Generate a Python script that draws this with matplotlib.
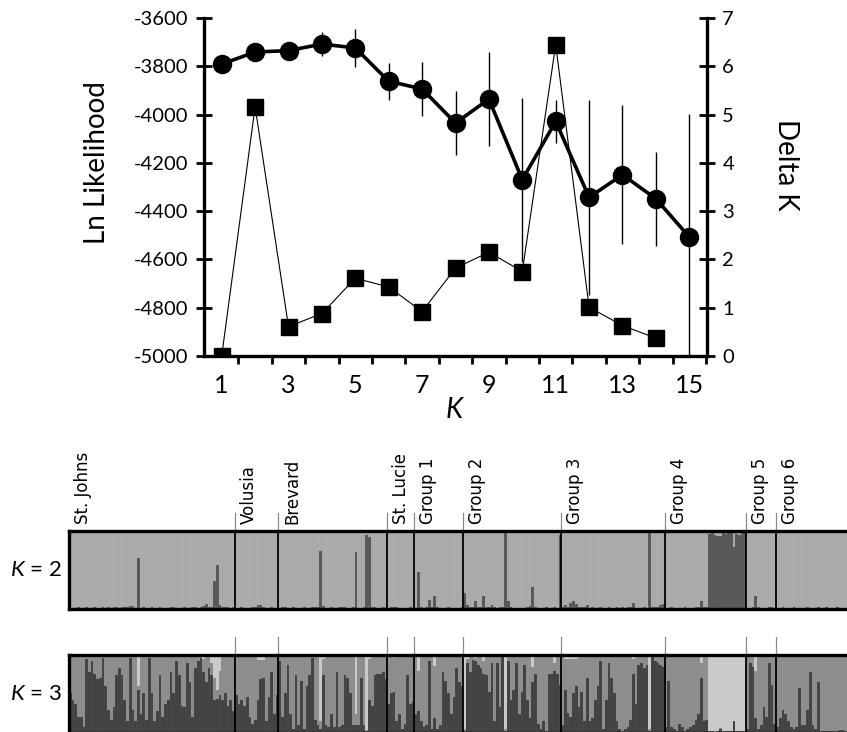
import matplotlib.pyplot as plt
import matplotlib.transforms as mtransforms
import numpy as np

# 字体设置
plt.rcParams['font.family'] = ['Lato', 'DejaVu Sans']
plt.rcParams['axes.unicode_minus'] = False
plt.rcParams['mathtext.fontset'] = 'custom'
plt.rcParams['mathtext.it'] = 'Lato:italic'
plt.rcParams['mathtext.rm'] = 'Lato'

# 上图数据：每个K的平均Ln似然值、标准差和Delta K
k_values = [1, 2, 3, 4, 5, 6, 7, 8, 9, 10, 11, 12, 13, 14, 15]
ln_likelihood = [-3791, -3741, -3735, -3708, -3724, -3862, -3894, -4035,
                 -3936, -4270, -4028, -4343, -4249, -4349, -4507]
ln_sd = [10, 12, 15, 50, 79, 76, 112, 131, 195, 340, 90, 405, 287, 196, 510]
delta_k_x = [1, 2, 3, 4, 5, 6, 7, 8, 9, 10, 11, 12, 13, 14]
delta_k = [0.0, 5.16, 0.61, 0.88, 1.61, 1.43, 0.92, 1.82, 2.15, 1.75,
           6.45, 1.01, 0.63, 0.37]

# 下图数据：种群名称
pop_names = ['St. Johns', 'Volusia', 'Brevard', 'St. Lucie', 'Group 1',
             'Group 2', 'Group 3', 'Group 4', 'Group 5', 'Group 6']

# K=2 深色聚类的比例
k2_st_johns = [0.01, 0.01, 0.01, 0.02, 0.01, 0.01, 0.02, 0.01, 0.01, 0.02,
               0.01, 0.01, 0.02, 0.01, 0.02, 0.01, 0.02, 0.02, 0.01, 0.02,
               0.02, 0.03, 0.04, 0.04, 0.01, 0.65, 0.01, 0.02, 0.01, 0.01,
               0.02, 0.01, 0.01, 0.02, 0.01, 0.01, 0.01, 0.02, 0.02, 0.01,
               0.01, 0.01, 0.02, 0.01, 0.01, 0.02, 0.03, 0.01, 0.02, 0.04,
               0.06, 0.02, 0.03, 0.36, 0.57, 0.05, 0.03, 0.02, 0.02, 0.01,
               0.02]
k2_volusia = [0.01, 0.01, 0.02, 0.01, 0.01, 0.01, 0.02, 0.02, 0.05, 0.05,
              0.02, 0.01, 0.01, 0.02, 0.01, 0.01]
k2_brevard = [0.01, 0.02, 0.03, 0.01, 0.01, 0.02, 0.01, 0.01, 0.01, 0.02,
              0.01, 0.01, 0.02, 0.02, 0.03, 0.74, 0.04, 0.01, 0.01, 0.02,
              0.01, 0.01, 0.03, 0.03, 0.03, 0.01, 0.01, 0.02, 0.73, 0.01,
              0.01, 0.02, 0.95, 0.92, 0.02, 0.02, 0.01, 0.01, 0.02, 0.01]
k2_st_lucie = [0.01, 0.02, 0.03, 0.03, 0.01, 0.01, 0.01, 0.01, 0.02, 0.01]
k2_group1 = [0.01, 0.48, 0.02, 0.01, 0.02, 0.11, 0.02, 0.17, 0.02, 0.01,
             0.01, 0.01, 0.02, 0.01, 0.01, 0.01, 0.01, 0.02]
k2_group2 = [0.21, 0.05, 0.02, 0.03, 0.10, 0.02, 0.02, 0.17, 0.02, 0.03,
             0.05, 0.02, 0.01, 0.02, 0.02, 0.97, 0.10, 0.02, 0.01, 0.01,
             0.01, 0.01, 0.01, 0.02, 0.04, 0.28, 0.02, 0.01, 0.01, 0.01,
             0.02, 0.01, 0.01, 0.02, 0.01, 0.95]
k2_group3 = [0.02, 0.05, 0.03, 0.08, 0.10, 0.06, 0.03, 0.02, 0.03, 0.05,
             0.01, 0.02, 0.01, 0.01, 0.02, 0.01, 0.01, 0.02, 0.01, 0.01,
             0.03, 0.01, 0.02, 0.01, 0.02, 0.02, 0.08, 0.01, 0.01, 0.01,
             0.02, 0.01, 0.97, 0.02, 0.02, 0.03, 0.05, 0.06]
k2_group4 = [0.01, 0.01, 0.02, 0.01, 0.01, 0.01, 0.01, 0.02, 0.01, 0.01,
             0.01, 0.02, 0.02, 0.10, 0.02, 0.03, 0.96, 0.97, 0.95, 0.93,
             0.93, 0.97, 0.96, 0.97, 0.97, 0.80, 0.96, 0.95, 0.97, 0.98]
k2_group5 = [0.01, 0.01, 0.02, 0.17, 0.02, 0.01, 0.01, 0.01, 0.03, 0.02, 0.01]
k2_group6 = [0.01, 0.01, 0.02, 0.01, 0.01, 0.01, 0.02, 0.01, 0.01, 0.01,
             0.01, 0.02, 0.01, 0.01, 0.01, 0.02, 0.01, 0.01, 0.02, 0.01,
             0.01, 0.01, 0.02, 0.01, 0.01, 0.01, 0.01, 0.02, 0.01, 0.01]

# K=3 深色聚类（底部）的比例
k3_dark_st_johns = [0.51, 0.42, 0.37, 0.21, 0.21, 0.08, 0.95, 0.78, 0.92, 0.76,
                    0.69, 0.71, 0.96, 0.60, 0.30, 0.17, 0.33, 0.74, 0.83, 0.74,
                    0.42, 0.15, 0.96, 0.30, 0.15, 0.55, 0.24, 0.51, 0.17, 0.96,
                    0.51, 0.15, 0.28, 0.74, 0.21, 0.37, 0.42, 0.78, 0.51, 0.92,
                    0.74, 0.35, 0.33, 0.90, 0.65, 0.21, 0.83, 0.92, 0.96, 0.78,
                    0.65, 0.83, 0.74, 0.42, 0.44, 0.49, 0.42, 0.51, 0.35, 0.42,
                    0.28]
k3_dark_volusia = [0.49, 0.37, 0.42, 0.35, 0.46, 0.21, 0.12, 0.17, 0.42, 0.69,
                   0.71, 0.15, 0.46, 0.78, 0.24, 0.49]
k3_dark_brevard = [0.92, 0.21, 0.51, 0.87, 0.24, 0.05, 0.74, 0.10, 0.67, 0.05,
                   0.60, 0.74, 0.96, 0.17, 0.10, 0.05, 0.74, 0.10, 0.08, 0.24,
                   0.08, 0.78, 0.08, 0.10, 0.74, 0.71, 0.51, 0.10, 0.10, 0.10,
                   0.71, 0.10, 0.02, 0.42, 0.35, 0.74, 0.76, 0.76, 0.78, 0.69]
k3_dark_st_lucie = [0.37, 0.51, 0.53, 0.15, 0.24, 0.05, 0.12, 0.74, 0.37, 0.40]
k3_dark_group1 = [0.24, 0.28, 0.15, 0.08, 0.10, 0.92, 0.05, 0.19, 0.05, 0.10,
                  0.78, 0.67, 0.51, 0.24, 0.46, 0.83, 0.65, 0.60]
k3_dark_group2 = [0.02, 0.90, 0.78, 0.94, 0.92, 0.87, 0.83, 0.76, 0.74, 0.53,
                  0.90, 0.15, 0.90, 0.33, 0.98, 0.02, 0.92, 0.42, 0.55, 0.90,
                  0.24, 0.53, 0.87, 0.42, 0.19, 0.65, 0.76, 0.12, 0.05, 0.15,
                  0.03, 0.76, 0.76, 0.80, 0.76, 0.62]
k3_dark_group3 = [0.10, 0.55, 0.26, 0.21, 0.51, 0.60, 0.33, 0.53, 0.15, 0.70,
                  0.15, 0.19, 0.42, 0.60, 0.92, 0.05, 0.42, 0.90, 0.71, 0.51,
                  0.15, 0.05, 0.03, 0.05, 0.08, 0.17, 0.76, 0.37, 0.87, 0.90,
                  0.83, 0.87, 0.02, 0.98, 0.92, 0.90, 0.87, 0.85]
k3_dark_group4 = [0.08, 0.67, 0.08, 0.05, 0.03, 0.12, 0.08, 0.03, 0.05, 0.08,
                  0.10, 0.17, 0.24, 0.71, 0.15, 0.17, 0.02, 0.02, 0.01, 0.02,
                  0.05, 0.02, 0.02, 0.02, 0.02, 0.15, 0.02, 0.02, 0.02, 0.02]
k3_dark_group5 = [0.05, 0.90, 0.85, 0.19, 0.05, 0.10, 0.33, 0.21, 0.90, 0.62, 0.12]
k3_dark_group6 = [0.08, 0.19, 0.30, 0.24, 0.15, 0.08, 0.05, 0.08, 0.58, 0.10,
                  0.10, 0.30, 0.78, 0.10, 0.05, 0.65, 0.03, 0.03, 0.03, 0.03,
                  0.03, 0.03, 0.03, 0.04, 0.04, 0.03, 0.03, 0.03, 0.03, 0.03]

# K=3 浅色聚类（顶部）的比例
k3_light_st_johns = [0.02, 0.02, 0.01, 0.02, 0.02, 0.03, 0.02, 0.02, 0.01, 0.02,
                     0.02, 0.02, 0.02, 0.01, 0.02, 0.02, 0.02, 0.03, 0.02, 0.02,
                     0.02, 0.02, 0.02, 0.02, 0.03, 0.40, 0.02, 0.02, 0.02, 0.02,
                     0.02, 0.02, 0.01, 0.02, 0.02, 0.02, 0.03, 0.02, 0.02, 0.02,
                     0.02, 0.02, 0.02, 0.02, 0.03, 0.02, 0.02, 0.02, 0.02, 0.05,
                     0.02, 0.03, 0.10, 0.30, 0.45, 0.20, 0.02, 0.02, 0.02, 0.02,
                     0.02]
k3_light_volusia = [0.02, 0.02, 0.02, 0.02, 0.02, 0.02, 0.02, 0.02, 0.06, 0.06,
                    0.06, 0.02, 0.02, 0.02, 0.02, 0.02]
k3_light_brevard = [0.03, 0.02, 0.02, 0.02, 0.02, 0.02, 0.02, 0.02, 0.02, 0.02,
                    0.02, 0.02, 0.02, 0.02, 0.02, 0.85, 0.05, 0.02, 0.02, 0.02,
                    0.02, 0.02, 0.02, 0.02, 0.02, 0.02, 0.02, 0.02, 0.75, 0.02,
                    0.02, 0.02, 0.96, 0.05, 0.02, 0.02, 0.02, 0.02, 0.02, 0.02]
k3_light_st_lucie = [0.02, 0.02, 0.04, 0.02, 0.02, 0.02, 0.02, 0.02, 0.02, 0.02]
k3_light_group1 = [0.02, 0.20, 0.02, 0.02, 0.02, 0.02, 0.02, 0.14, 0.02, 0.02,
                   0.02, 0.02, 0.02, 0.02, 0.02, 0.02, 0.02, 0.02]
k3_light_group2 = [0.95, 0.05, 0.03, 0.03, 0.04, 0.03, 0.03, 0.08, 0.03, 0.03,
                   0.03, 0.03, 0.03, 0.03, 0.02, 0.95, 0.03, 0.03, 0.03, 0.03,
                   0.03, 0.03, 0.03, 0.03, 0.03, 0.15, 0.03, 0.03, 0.03, 0.03,
                   0.03, 0.03, 0.03, 0.10, 0.03, 0.03]
k3_light_group3 = [0.02, 0.05, 0.05, 0.05, 0.05, 0.05, 0.02, 0.02, 0.02, 0.02,
                   0.02, 0.02, 0.02, 0.02, 0.02, 0.02, 0.02, 0.02, 0.02, 0.02,
                   0.02, 0.02, 0.02, 0.02, 0.02, 0.02, 0.05, 0.02, 0.02, 0.02,
                   0.02, 0.02, 0.95, 0.02, 0.02, 0.02, 0.02, 0.02]
k3_light_group4 = [0.02, 0.02, 0.02, 0.02, 0.02, 0.02, 0.02, 0.02, 0.02, 0.02,
                   0.02, 0.02, 0.02, 0.10, 0.02, 0.02, 0.97, 0.97, 0.98, 0.97,
                   0.94, 0.97, 0.97, 0.97, 0.97, 0.84, 0.97, 0.97, 0.97, 0.97]
k3_light_group5 = [0.02, 0.02, 0.02, 0.20, 0.02, 0.02, 0.02, 0.02, 0.02, 0.02, 0.02]
k3_light_group6 = [0.01, 0.01, 0.01, 0.01, 0.01, 0.01, 0.01, 0.01, 0.01, 0.01,
                   0.01, 0.01, 0.01, 0.01, 0.01, 0.01, 0.01, 0.01, 0.01, 0.01,
                   0.01, 0.01, 0.01, 0.01, 0.01, 0.01, 0.01, 0.01, 0.01, 0.01]

k2_pops = [k2_st_johns, k2_volusia, k2_brevard, k2_st_lucie, k2_group1,
           k2_group2, k2_group3, k2_group4, k2_group5, k2_group6]
k3_dark_pops = [k3_dark_st_johns, k3_dark_volusia, k3_dark_brevard, k3_dark_st_lucie,
                k3_dark_group1, k3_dark_group2, k3_dark_group3, k3_dark_group4,
                k3_dark_group5, k3_dark_group6]
k3_light_pops = [k3_light_st_johns, k3_light_volusia, k3_light_brevard, k3_light_st_lucie,
                 k3_light_group1, k3_light_group2, k3_light_group3, k3_light_group4,
                 k3_light_group5, k3_light_group6]

W, H = 847, 732
fig = plt.figure(figsize=(W / 100, H / 100), dpi=100)


def px_box(left, top, right, bottom):
    # 像素坐标转换为figure坐标
    return [left / W, 1 - bottom / H, (right - left) / W, (bottom - top) / H]


# ---------------- 上图：Ln似然值与Delta K ----------------
ax = fig.add_axes(px_box(204, 18, 707, 356))
ax.errorbar(k_values, ln_likelihood, yerr=ln_sd, fmt='none', ecolor='black',
            elinewidth=1.0, capsize=0, zorder=2)
ax.plot(k_values, ln_likelihood, '-o', color='black', lw=2.6, ms=13, zorder=3)
ax.set_xlim(0.47, 15.53)
ax.set_ylim(-5000, -3600)
ax.set_yticks(np.arange(-5000, -3599, 200))
ax.set_xticks(range(1, 16, 2))
ax.set_xticks(np.arange(1.5, 15.6, 1), minor=True)
ax.tick_params(axis='x', which='major', length=0, labelsize=18, pad=13)
ax.tick_params(axis='x', which='minor', length=6, width=2, direction='out')
ax.tick_params(axis='y', length=12, width=2, direction='inout', labelsize=14.5, pad=5)
for side in ['left', 'bottom']:
    ax.spines[side].set_linewidth(2.4)
ax.spines['top'].set_visible(False)
ax.spines['right'].set_visible(False)
ax.set_xlabel('$K$', fontsize=20, labelpad=0)

axr = ax.twinx()
axr.plot(delta_k_x, delta_k, '-s', color='black', lw=0.8, ms=11, zorder=3)
axr.set_ylim(0, 7)
axr.set_yticks(range(0, 8))
axr.tick_params(axis='y', length=12, width=2, direction='inout', labelsize=14.5, pad=5)
axr.spines['right'].set_linewidth(2.4)
axr.spines['top'].set_visible(False)
axr.spines['left'].set_visible(False)
axr.spines['bottom'].set_visible(False)

fig.text(97 / W, 1 - 163 / H, 'Ln Likelihood', rotation=90, ha='center',
         va='center', fontsize=20)
fig.text(786 / W, 1 - 165 / H, 'Delta K', rotation=270, ha='center',
         va='center', fontsize=20)

# ---------------- 下图：STRUCTURE 条形图 ----------------
sizes = [len(p) for p in k2_pops]
starts = np.concatenate([[0], np.cumsum(sizes)])
n_total = starts[-1]
bar_px = 2.72
left_px = 69


def draw_structure(ax, layers, colors):
    x = np.arange(n_total)
    bottom = np.zeros(n_total)
    for frac, c in zip(layers, colors):
        ax.bar(x, frac, width=1.0, bottom=bottom, color=c, align='edge', linewidth=0)
        bottom = bottom + frac
    # 个体之间的细分隔线
    for xi in x[1:]:
        ax.axvline(xi, color='white', lw=0.3, alpha=0.12)
    trans = mtransforms.blended_transform_factory(ax.transData, ax.transAxes)
    for b in starts[1:-1]:
        ax.axvline(b, color='black', lw=1.3)
        ax.plot([b, b], [1.0, 1.23], color='#8a8a8a', lw=0.9, transform=trans,
                clip_on=False)
    ax.set_xlim(0, n_total)
    ax.set_ylim(0, 1)
    ax.set_xticks([])
    ax.set_yticks([])
    for s in ax.spines.values():
        s.set_linewidth(2.4)


right_px = left_px + n_total * bar_px

k2_dark = np.concatenate(k2_pops)
ax2 = fig.add_axes(px_box(left_px, 531, right_px, 609))
draw_structure(ax2, [k2_dark, 1 - k2_dark], ['#575757', '#a9a9a9'])

k3_dark = np.concatenate(k3_dark_pops)
k3_light = np.concatenate(k3_light_pops)
k3_mid = np.clip(1 - k3_dark - k3_light, 0, 1)
ax3 = fig.add_axes(px_box(left_px, 655, right_px, 733))
draw_structure(ax3, [k3_dark, k3_mid, k3_light], ['#414141', '#8c8c8c', '#c9c9c9'])

# 种群名称
for name, s in zip(pop_names, starts[:-1]):
    ax2.annotate(name, xy=(s, 1.0), xycoords=('data', 'axes fraction'),
                 xytext=(10, 5), textcoords='offset points', rotation=90,
                 ha='center', va='bottom', fontsize=12, family='DejaVu Sans')

fig.text(62 / W, 1 - 570 / H, '$K$ = 2', ha='right', va='center', fontsize=16)
fig.text(62 / W, 1 - 694 / H, '$K$ = 3', ha='right', va='center', fontsize=16)

fig.savefig('out.png', dpi=100)
